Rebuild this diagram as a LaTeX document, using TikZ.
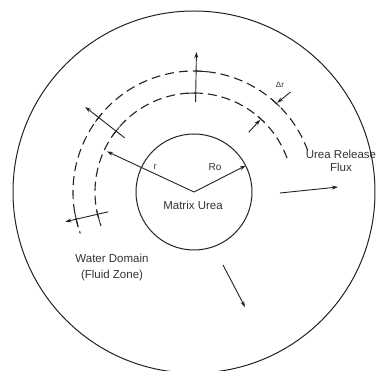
\documentclass[tikz,border=0pt]{standalone}
\usepackage{fontspec}
\setmainfont{Liberation Sans}
\usepackage{xcolor}
\usetikzlibrary{positioning, arrows.meta, calc}
\definecolor{urline}{HTML}{222222}
\definecolor{urtext}{HTML}{333333}

\begin{document}
\begin{tikzpicture}[x=1pt, y=1pt,
  zone/.style={circle, draw=urline, line width=1pt, inner sep=0pt, outer sep=0pt},
  shell/.style={draw=urline, line width=1.1pt, dash pattern=on 9pt off 5pt},
  arr/.style={-{Stealth[length=6pt, width=4pt]}, line width=0.9pt, color=urline},
  tickmark/.style={line width=0.9pt, color=urline},
  lbl/.style={font=\fontsize{11.5}{13}\selectfont, text=urtext, align=center},
]
\useasboundingbox (-194,-179) rectangle (186,192);

% Domain and matrix
\coordinate (O) at (0,0);
\node[zone, minimum size=362pt] (domain) at (O) {};
\node[zone, minimum size=116pt] (matrix) at (O) {};

% Dashed shells
\draw[shell] (20:121) arc[start angle=20, end angle=200, radius=121];
\draw[shell] (20:99) arc[start angle=20, end angle=200, radius=99];

% Radii
\coordinate (rend) at (155:96);
\draw[arr] (O) -- (rend);
\draw[arr] (O) -- (matrix.27);
\node[lbl, font=\fontsize{9}{10}\selectfont] (rlabel) at (-39,25) {r};
\node[lbl, font=\fontsize{10}{11}\selectfont] (rolabel) at (21,25) {Ro};

% Flux through the shells
\coordinate (topin) at (89:90);
\coordinate (topout) at (89:140);
\draw[arr] (topin) -- (topout);
\draw[tickmark] (89:121) -- (84:121);
\draw[tickmark] (89:99) -- (95:99);

\coordinate (ulin) at (142:88);
\coordinate (ulout) at (142:138);
\draw[arr] (ulin) -- (ulout);
\draw[tickmark] (139.5:121) -- (144.5:121);
\draw[tickmark] (139:99) -- (145:99);

\coordinate (llin) at (193:88);
\coordinate (llout) at (193:132);
\draw[arr] (llin) -- (llout);
\draw[tickmark] (190:121) -- (197:121);
\draw[tickmark] (191:99) -- (198:99);

% Shell thickness
\coordinate (drout) at (46:139);
\coordinate (drouttip) at (47:122);
\coordinate (drin) at (47.5:81);
\coordinate (drintip) at (47.5:98);
\draw[arr] (drout) -- (drouttip);
\draw[arr] (drin) -- (drintip);
\draw[tickmark] (45:121) -- (50:121);
\draw[tickmark] (45:99) -- (50:99);
\node[lbl, font=\fontsize{8}{9}\selectfont] (drlabel) at (86,107) {Δr};

% Release flux
\coordinate (fluxin) at (86,-1);
\coordinate (fluxout) at (144,5);
\draw[arr] (fluxin) -- (fluxout);
\coordinate (downin) at (29,-73);
\coordinate (downout) at (51,-115);
\draw[arr] (downin) -- (downout);

% Labels
\node[lbl] (mlabel) at (-1,-13) {Matrix Urea};
\node[lbl, font=\fontsize{11.5}{16}\selectfont] (water) at (-82,-76) {Water Domain\\(Fluid Zone)};
\node[lbl] (flux) at (147,31) {Urea Release\\Flux};
\end{tikzpicture}
\end{document}
